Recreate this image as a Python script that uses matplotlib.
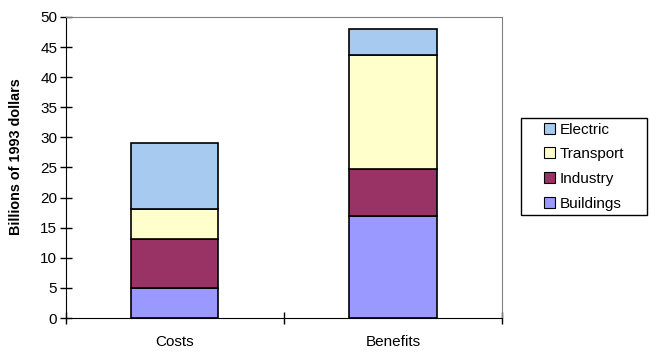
import matplotlib
matplotlib.use("Agg")
import matplotlib.pyplot as plt
from matplotlib.patches import Rectangle
import numpy as np

plt.rcParams['font.family'] = ['Liberation Sans', 'DejaVu Sans']

categories = ["Costs", "Benefits"]
series_names = ["Buildings", "Industry", "Transport", "Electric"]
buildings = [5.0, 17.0]
industry = [8.1, 7.8]
transport = [5.0, 18.9]
electric = [10.9, 4.3]
colors = ["#9999FF", "#993366", "#FFFFCC", "#A6CAF0"]

W, H = 650, 363
fig = plt.figure(figsize=(6.5, 3.63), dpi=100)
ax = fig.add_axes([65.5/W, 1-318/H, (502-65.5)/W, (318-17)/H])

x = np.arange(len(categories))
bottom = np.zeros(len(categories))
handles = []
for name, vals, c in zip(series_names, [buildings, industry, transport, electric], colors):
    b = ax.bar(x, vals, width=0.4, bottom=bottom, color=c, edgecolor="black",
               linewidth=1.2, label=name)
    handles.append(b)
    bottom += np.array(vals)

ax.set_xlim(-0.5, 1.5)
ax.set_ylim(0, 50)
ax.set_yticks(np.arange(0, 51, 5))
ax.set_xticks([-0.5, 0.5, 1.5], minor=False)
ax.set_xticklabels([])
ax.set_xticks(x, minor=True)
ax.set_xticklabels(categories, minor=True)
ax.tick_params(axis='x', which='minor', length=0, pad=12, labelsize=11)
ax.tick_params(axis='x', which='major', direction='inout', length=9, width=1)
ax.tick_params(axis='y', direction='inout', length=8, width=1, labelsize=11, pad=2)

for s in ["top", "right"]:
    ax.spines[s].set_color("#808080")
for s in ["left", "bottom"]:
    ax.spines[s].set_color("black")

ax.set_ylabel("Billions of 1993 dollars", fontsize=10.4, fontweight="bold",
              va="center", ha="center")
ax.yaxis.set_label_coords((15.5-65.5)/436.5, (318-156.7)/301)

leg = fig.legend(handles[::-1], series_names[::-1], loc="upper left",
                 bbox_to_anchor=(544/W, 1-122.5/H), frameon=False,
                 fontsize=11, handlelength=0.75, handleheight=0.75, handletextpad=0.3,
                 borderpad=0, labelspacing=0.7, borderaxespad=0)
for h in leg.legend_handles:
    h.set_linewidth(0.8)

fig.add_artist(Rectangle((520.7/W, 1-215/H), (647-520.7)/W, (215-118)/H,
                         transform=fig.transFigure, fill=False,
                         edgecolor="black", linewidth=1))

fig.savefig("out.png", dpi=100)
